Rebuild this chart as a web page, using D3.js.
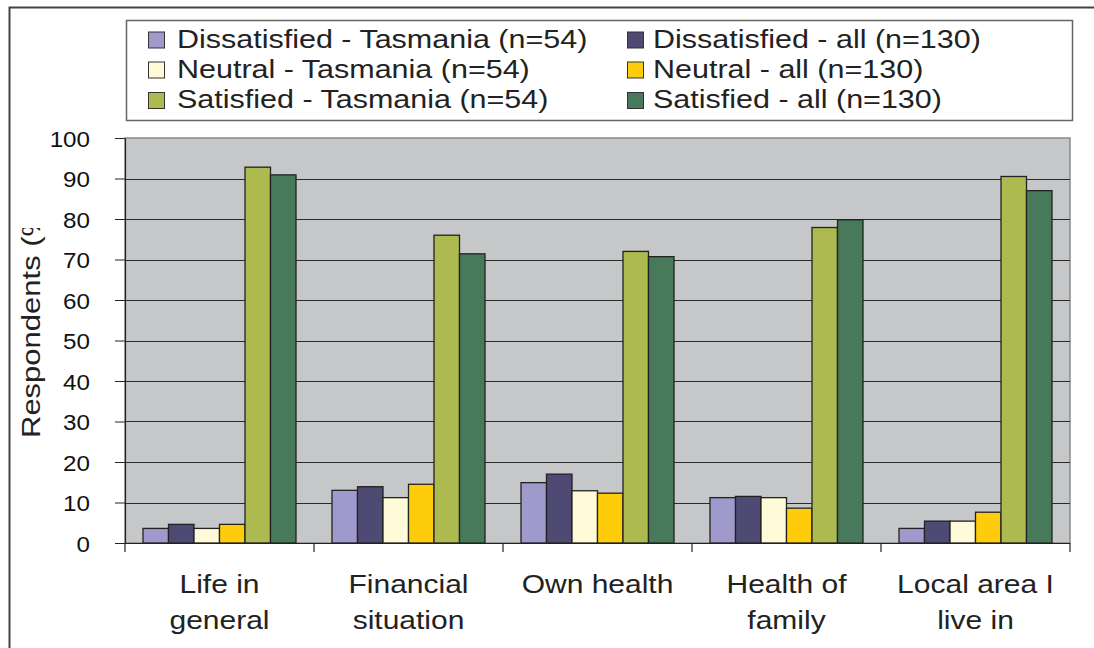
<!DOCTYPE html>
<html><head><meta charset="utf-8">
<script src="https://cdn.jsdelivr.net/npm/d3@7"></script>
<style>body{margin:0;background:#fff}svg{display:block;font-family:"Liberation Sans",Arial,sans-serif}</style>
</head><body><svg id="c" width="1094" height="648"></svg>
<script>
const categories = [["Life in","general"],["Financial","situation"],["Own health"],["Health of","family"],["Local area I","live in"]];
const seriesNames = ["Dissatisfied - Tasmania (n=54)","Dissatisfied - all (n=130)","Neutral - Tasmania (n=54)","Neutral - all (n=130)","Satisfied - Tasmania (n=54)","Satisfied - all (n=130)"];
const seriesColors = ["#9f99cc","#4e4a74","#fffbd8","#fecc0a","#adba4f","#47795a"];
const dissTas = [3.6, 13.0, 14.9, 11.2, 3.6];
const dissAll = [4.6, 13.9, 17.0, 11.5, 5.4];
const neutTas = [3.6, 11.2, 12.9, 11.2, 5.4];
const neutAll = [4.6, 14.5, 12.3, 8.6, 7.6];
const satTas = [92.8, 76.0, 72.0, 77.9, 90.5];
const satAll = [90.9, 71.4, 70.7, 79.8, 87.0];
const seriesValues = [dissTas, dissAll, neutTas, neutAll, satTas, satAll];
const yTicks = [0,10,20,30,40,50,60,70,80,90,100];
const yTitle = "Respondents (%)";

const svg = d3.select("#c");
const L = 125, R = 1070, T = 138, B = 543;
const x0 = d3.scaleBand().domain(d3.range(categories.length)).range([L, R]).paddingInner(0).paddingOuter(0);
const x1 = d3.scaleBand().domain(d3.range(seriesNames.length)).range([0, x0.bandwidth()]).paddingOuter(0.706).paddingInner(0);
const y = d3.scaleLinear().domain([0,100]).range([B, T]);

// outer frame
svg.append("path").attr("d","M9.5,648 V7.5 H1094").attr("fill","none").attr("stroke","#444").attr("stroke-width",2);

// plot background
svg.append("rect").attr("x",L).attr("y",T).attr("width",R-L).attr("height",B-T).attr("fill","#c6c7c9").attr("stroke","#8a8a8a").attr("stroke-width",1.5);

// gridlines
svg.append("g").selectAll("line").data(yTicks.filter(d=>d>0&&d<100)).join("line")
  .attr("x1",L).attr("x2",R).attr("y1",d=>Math.round(y(d))+0.5).attr("y2",d=>Math.round(y(d))+0.5)
  .attr("stroke","#2a2a2a").attr("stroke-width",1.2);

// bars
const g = svg.append("g");
categories.forEach((c,i)=>{
  seriesValues.forEach((vals,j)=>{
    g.append("rect")
      .attr("x", x0(i)+x1(j)).attr("width", x1.bandwidth())
      .attr("y", y(vals[i])).attr("height", B - y(vals[i]))
      .attr("fill", seriesColors[j]).attr("stroke","#222").attr("stroke-width",1.3);
  });
});

// y axis
const yAxis = d3.axisLeft(y).tickValues(yTicks).tickSize(10).tickPadding(0).tickSizeOuter(0).tickFormat(()=>"");
const ya = svg.append("g").attr("transform",`translate(${L},0)`).call(yAxis);
ya.select(".domain").attr("stroke","#222").attr("stroke-width",1.2);
ya.selectAll(".tick line").attr("stroke","#222");
ya.selectAll(".tick").append("text").attr("transform","translate(-35,8) scale(1.1,1)")
  .attr("text-anchor","end").attr("font-size",22).attr("fill","#111").text(d=>d);

// x axis
svg.append("line").attr("x1",L).attr("x2",R).attr("y1",B+0.5).attr("y2",B+0.5).attr("stroke","#222").attr("stroke-width",1.2);
const bounds = d3.range(categories.length+1).map(i=> i<categories.length ? x0(i) : R);
svg.append("g").selectAll("line").data(bounds).join("line")
  .attr("x1",d=>d).attr("x2",d=>d).attr("y1",B).attr("y2",B+9).attr("stroke","#222").attr("stroke-width",1.2);
categories.forEach((c,i)=>{
  const cx = x0(i)+x0.bandwidth()/2;
  const t = svg.append("text").attr("transform",`translate(${cx},593) scale(1.2,1)`)
    .attr("text-anchor","middle").attr("font-size",25).attr("fill","#222");
  c.forEach((ln,k)=> t.append("tspan").attr("x", 0).attr("y", k*36).text(ln));
});

// y title (clipped)
svg.append("clipPath").attr("id","yclip").append("rect").attr("x",0).attr("y",228).attr("width",100).attr("height",400);
svg.append("g").attr("clip-path","url(#yclip)").append("text")
  .attr("transform","translate(40,438) rotate(-90) scale(1.24,1)").attr("font-size",25).attr("fill","#222").text(yTitle);

// legend
svg.append("rect").attr("x",126.5).attr("y",20.5).attr("width",946).attr("height",100).attr("fill","#fff").attr("stroke","#666").attr("stroke-width",1.5);
const legSw = [148, 627], legTx = [177, 653], legRows = [40, 70, 100.5];
seriesNames.forEach((n,j)=>{
  const c = j%2, cy = legRows[Math.floor(j/2)];
  svg.append("rect").attr("x",legSw[c]+0.5).attr("y",cy-8).attr("width",16).attr("height",16).attr("fill",seriesColors[j]).attr("stroke","#333").attr("stroke-width",1);
  svg.append("text").attr("transform",`translate(${legTx[c]},${cy+7.5}) scale(1.22,1)`).attr("font-size",25).attr("fill","#222").text(n);
});
</script></body></html>
